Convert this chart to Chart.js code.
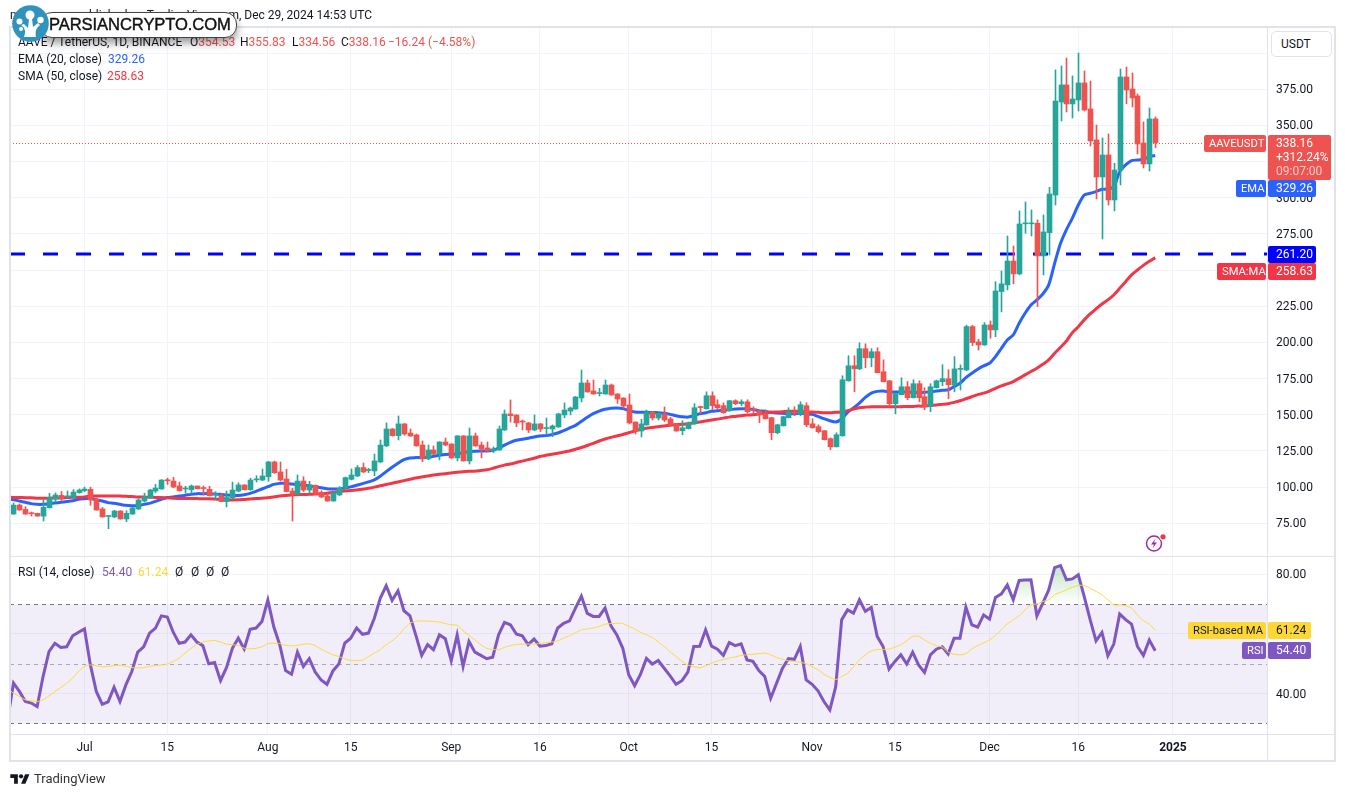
<!DOCTYPE html>
<html>
<head>
<meta charset="utf-8">
<title>AAVEUSDT</title>
<script src="https://cdn.jsdelivr.net/npm/chart.js@4/dist/chart.umd.js"></script>
<style>
  html, body { margin: 0; background: #fff; }
  body { width: 1345px; height: 796px; position: relative; overflow: hidden; font: 12px Roboto, sans-serif; color: #131722; }
  canvas { position: absolute; left: 0; top: 0; }
  .t { position: absolute; white-space: nowrap; line-height: 16px; }
  .r { color: #ef5350; }
  .usdt { position: absolute; left: 1271px; top: 31px; width: 59px; height: 24px; border: 1px solid #e0e3eb; border-radius: 5px; line-height: 24px; text-indent: 9px; background: #fff; }
  .pill { position: absolute; left: 40px; top: 12px; width: 195px; height: 24px; border: 1px solid #444; border-radius: 12px; background: #fff; box-shadow: 0 5px 9px rgba(0,0,0,.4); font: 16.6px/24px "Liberation Sans", sans-serif; text-indent: 8px; color: #111; -webkit-text-stroke: .4px #111; letter-spacing: -.1px; }
</style>
</head>
<body>
<canvas id="chart" width="1345" height="796"></canvas>

<div class="t" style="left:10px;top:7px">m</div>
<div class="t" style="right:973px;top:7px">published on TradingView.com, Dec 29, 2024 14:53 UTC</div>
<div class="t" style="left:18px;top:34px">AAVE / TetherUS, 1D, BINANCE</div>
<div class="t" style="left:190px;top:34px">O<span class="r">354.53</span></div>
<div class="t" style="left:240px;top:34px">H<span class="r">355.83</span></div>
<div class="t" style="left:292px;top:34px">L<span class="r">334.56</span></div>
<div class="t" style="left:341px;top:34px">C<span class="r">338.16</span></div>
<div class="t r" style="left:388px;top:34px">−16.24 (−4.58%)</div>
<div class="t" style="left:18px;top:51px">EMA (20, close)</div>
<div class="t" style="left:108px;top:51px;color:#2962ff">329.26</div>
<div class="t" style="left:18px;top:68px">SMA (50, close)</div>
<div class="t" style="left:107px;top:68px;color:#f23645">258.63</div>
<div class="t" style="left:18px;top:564px">RSI (14, close)</div>
<div class="t" style="left:102px;top:564px;color:#7e57c2">54.40</div>
<div class="t" style="left:138px;top:564px;color:#fdd835">61.24</div>
<div class="t" style="left:175px;top:564px">Ø</div>
<div class="t" style="left:191px;top:564px">Ø</div>
<div class="t" style="left:206px;top:564px">Ø</div>
<div class="t" style="left:221px;top:564px">Ø</div>
<div class="usdt">USDT</div>

<div class="pill">PARSIANCRYPTO.COM</div>
<svg style="position:absolute;left:12px;top:5px" width="37" height="37" viewBox="0 0 37 37">
  <circle cx="18.5" cy="18.5" r="18.3" fill="#2f93bd"/>
  <path d="M12 32c2-6 1-9-3-12l3-1 4 4 1-9h3l1 8 5-4 2 2c-4 3-5 7-4 12z" fill="#fff"/>
  <circle cx="18" cy="10" r="4.5" fill="#fff"/>
  <circle cx="7.5" cy="16.5" r="3" fill="#fff"/>
  <circle cx="28.5" cy="15" r="3.2" fill="#fff"/>
  <circle cx="9" cy="24" r="2" fill="#fff"/>
</svg>

<svg style="position:absolute;left:1145px;top:534px" width="22" height="20" viewBox="0 0 22 20">
  <circle cx="9" cy="9.5" r="7.5" fill="none" stroke="#9c27b0" stroke-width="1.5"/>
  <path d="M10.5 4.5 6 10.5h3L7.5 14.5 12 8.5H9z" fill="#9c27b0"/>
  <circle cx="18" cy="2.8" r="3.6" fill="#fff"/>
  <circle cx="18" cy="2.8" r="2.6" fill="#f23645"/>
</svg>

<svg style="position:absolute;left:10px;top:772px" width="20" height="14" viewBox="0 0 36 26">
  <path d="M14 22H7V11H0V4h14v18zM28 22h-8l7.5-18h8L28 22z" fill="#131722"/>
  <circle cx="20" cy="8" r="4" fill="#131722"/>
</svg>
<div class="t" style="left:34px;top:771px;font-size:13px;color:#333">TradingView</div>

<script>
// daily candles, Jun 19 to Dec 29 2024
const opens = [
  81.4,87.6,84.6,81.9,81.9,80,85.8,91.8,94.3,93.3,
  92.9,96.2,97.6,98.5,91.8,84.9,79.7,79.4,83.5,78,
  81.4,84.9,90.4,92.7,97.3,98.7,104.9,104.2,100.8,98.7,
  98.2,100.8,99.4,98.5,94.8,94.1,90,92.5,97.3,101.5,
  98.2,105,104.9,107.2,117.4,110.5,105.6,97.3,95.2,104.2,
  98,101.2,96.4,93.9,90.4,94.6,99.2,105.4,107.7,113.5,
  111.5,111.2,117.4,128.5,140.2,135.6,143.7,137.4,136.1,129.1,
  119.5,125.7,122.9,131.2,129.8,120.2,135.4,118.1,135.4,129.1,
  127.1,125,125.7,139.5,150.6,149.9,145.3,144.4,139.5,143.7,
  140.5,140.2,141.6,149.9,152.6,154,161.6,172,166.5,164.7,
  164.4,170.6,164.4,161.6,156.8,145,138.8,143,151.7,147.8,
  150.6,147.1,143.7,139,140.4,143.8,155.6,154.2,163.2,157,
  156.3,152.8,159.7,157.7,159,153.7,152.8,150.7,148,137.6,
  142.4,148,151.6,150.7,156.3,143.8,141.8,139,133.5,127.9,
  135.5,173.5,183.9,181.8,195.7,189.4,193.6,179.8,173.5,157.7,
  163.9,169.4,161.8,171.5,162.5,155.6,168.7,172.9,174.9,170.6,
  181.4,181,211,200.4,198.3,212.1,208.7,235.2,239.8,256.3,
  247.4,282,282,282.4,259.8,275.9,301.9,366.2,378,364.9,
  367.6,379.4,361.4,340,314.4,329.6,298.5,319.2,383.5,375.2,
  370.4,337.9,323.4,354.53
];
const highs = [
  89,88.4,86.5,82.8,82,91.1,95.7,96,97,97.3,
  98.3,98.8,100,100,92.5,86,80.3,84,83.7,83.7,
  86,92,95.8,98.5,101.9,105.2,106.2,106.8,103.5,100.6,
  101.5,100.8,100.8,100.6,96.9,95.7,97.3,103.5,103,101.7,
  106.2,107.9,112.5,117.8,118,117.4,112.3,99.2,108.4,107.2,
  104,101.5,97.5,95.7,96.9,100.4,107,112.6,114.9,116.7,
  113,122.9,132.6,144.4,140.5,149.2,144,140.2,136.7,131.9,
  129.1,128.5,131.5,134,130,135.7,135.6,140.9,137.4,131.2,
  131.2,127.8,142.3,153.3,160.3,150,146.4,144.8,149.9,144,
  147.8,143,151,158.2,155.4,162.7,181,174.1,174.1,168.3,
  174.1,171.3,164.6,161.8,164.4,145.2,146.9,153.3,152,151.2,
  155.4,148.3,144,145.9,145,157.7,156,165.9,165.9,160.4,
  158.3,160,160.4,160.4,160.4,155.6,153,153.5,148.2,143.4,
  149,154.9,155.6,159,158.3,147.3,143.1,139.2,134,137.6,
  177,190.8,190.8,199.8,199.1,195.7,196.4,188,173.7,165,
  175.6,173,174.2,173.5,168.7,171.5,174,184.6,181.2,190.2,
  184.5,212,211.8,202.2,213.7,214.9,242,249.4,273.6,266.7,
  290.9,297.1,291.6,284.7,288.1,307.2,388.4,391.1,396.6,384.2,
  400.1,387.7,380.7,350.3,341.4,344.1,323.8,389,390.4,386.3,
  371.8,352.4,362.1,355.83
];
const lows = [
  81.2,84,81.2,80,79.8,76.6,85.4,89.5,90.8,92.8,
  92.5,95.8,96.8,87.5,84,79.2,71.3,78.8,77.8,76.1,
  81.2,84.5,89.8,92.3,96.2,98.5,101.9,99.6,97.2,95.8,
  95.8,98.7,94.5,93.9,91.1,90,86.3,92,96.8,98,
  97.8,103.5,104.5,104,109.5,104.2,96.7,76.6,95,97,
  95.7,95,92.7,90.2,90.2,94.2,98.8,105,107.2,110,
  110,107.9,117,128,135.2,132.6,135.8,135,128.3,117.6,
  119,122.4,118.8,128.5,119.8,118.1,118,116,128.2,120.2,
  124.8,123.9,125.4,139.2,145,141.8,139.5,137.7,139,138.4,
  136.7,134.9,141.3,148,149.9,153.8,158.9,165.6,164.2,163,
  164.2,163.5,157.9,154.5,143.7,136.7,134.7,142.8,146.4,146.4,
  145.3,142.8,138.6,136.2,140.2,143.5,150.7,153.8,153.5,153.5,
  151,152.5,157,156.3,151.4,151.2,144.5,147,132.8,136.9,
  142.2,147.8,149.4,149.4,141.8,140.8,137.4,132.6,125.9,127.7,
  135.2,173.2,165.9,181.2,182.5,183.2,179,172.7,155.8,150.7,
  163.7,160.4,161.6,159,153.5,152.1,168.5,170.1,161.1,165.9,
  167.2,180.5,197.8,194.8,198,202.9,204,221.1,236.3,240.5,
  246.7,275.5,273.6,224.8,246.7,260.5,295,353.1,359.3,355.2,
  360,360,335.8,299.2,271.5,295,290.9,308.9,364.9,362.8,
  330.3,320.6,318.5,334.56
];
const closes = [
  87.6,84.2,81.4,81.6,80,86,92.7,94.6,91.8,93.9,
  96.6,98,98.7,91.1,84.2,79.4,80,83.5,78,81.9,
  85.6,91.1,93.4,98,99.4,104.9,104.4,100.1,97.6,99,
  100.8,98.9,99,94.1,95.2,90,92.9,98,101.5,98.2,
  104.9,105.4,107.7,117.4,110,104.9,96.9,95.2,104.2,98,
  101.5,95.2,93.2,90.4,96.2,99.2,106.6,108.4,113.5,110.5,
  111.9,118.1,129.1,140.2,135.6,143.7,136.7,135.4,128.5,119.5,
  125.7,122.9,131.2,129.1,120.2,135.4,118.1,135.4,128.5,126.4,
  125,126.4,140.2,150.6,149.4,144.4,145,139.5,143.7,140.2,
  140.9,142.3,150.6,153.3,154.7,162.3,172,165.8,164.4,165,
  170.6,163.7,160.9,156.1,144.4,138.8,143.7,151.9,147.8,151,
  146.4,143,138.8,141,144.5,154.9,155,163.2,156.3,154.9,
  151.4,159.7,157.7,159,152.1,153.2,150,147.3,137.6,143.1,
  148.7,152.1,151.2,157,143.1,141,138.3,132.8,127.9,136.2,
  174.2,183.9,181.8,195.7,189.4,193.6,179.1,172.9,157.7,164.6,
  169.4,161.8,171.5,161.8,155.6,169.4,173.5,174.9,170.8,181.7,
  181.7,211,199.9,198.3,212.1,208.7,235.6,240.5,256.3,247.4,
  281.9,282.4,282.4,259.8,276.4,302.6,366.9,378,364.9,368.3,
  379.4,360.7,339.3,314.4,329.6,298.5,319.2,383.5,374.5,369,
  337.2,323.4,354.5,338.16
];
// the indicator lists start one day earlier, that point sits just off the left edge
const ema20 = [
  91.9,
  91.3,90.4,89.5,88.6,88.1,88.1,88.6,89,89.5,90,
  90.6,91.6,92,92.3,91.1,90.4,89.3,88.8,88.1,87.4,
  87.2,87.2,88.1,88.8,90.2,91.6,92.9,93.2,93.9,94.3,
  95,95.5,95.5,95.5,95.2,95,94.6,94.3,94.3,94.8,
  95.7,97.1,98.7,100.3,101.9,102.6,102.6,102.2,101.9,101.5,
  101,100.3,99.6,98.9,98.7,98.7,99.3,100.2,101.3,102.4,
  103.6,105,107.5,110.7,113.7,116.5,119,120.2,120.4,120.4,
  120.6,121.3,122,122.5,122.7,122.9,123.9,124.5,124.8,125,
  125,125.5,126.9,129.1,131,132.4,133.1,133.8,134.7,135.4,
  135.6,136.3,137.4,139,140.9,142.7,145.5,148.3,150.8,152.6,
  153.8,154.5,154.7,154.3,152.9,152,151.7,151.7,151.5,151.5,
  151,150.3,149.4,148.7,148.4,149.4,150.7,151.4,152.4,152.8,
  153.3,153.5,154,154.2,154.2,153.7,152.8,152.4,151.7,151.2,
  151,150.7,150.7,151,150.7,150.3,148.9,147.3,145.9,145,
  147.1,151.7,154.7,158.1,162,165,166.2,166.4,165.9,165.7,
  165.7,165.7,165.5,165.5,165.5,165.9,166.4,166.9,167.3,169.5,
  171.8,175.7,178.7,181.5,183.8,185.6,190.2,196,201.7,205.2,
  213.3,220.2,225.9,229.4,233.5,239.8,254.7,268.5,278,286,
  295,301.9,303.1,304.3,305.9,305.9,307.7,318,322.7,325.7,
  326.1,326.6,328.4,329.26
];
const sma50 = [
  93,
  92.9,92.8,92.7,92.6,92.4,92.3,92.4,92.5,92.6,92.8,
  93,93,93.2,93.8,93.9,93.9,93.9,93.9,93.8,93.7,
  93.5,93.2,93.1,93,92.9,92.8,92.6,92.4,92.2,92.2,
  92.2,92.1,92,92,91.8,91.5,91.2,91.1,91.2,91.5,
  91.8,92.1,92.3,92.7,93.2,93.9,94.3,94.6,94.8,94.9,
  95,95.2,95.4,95.7,96.4,96.9,97.3,97.7,98.1,98.6,
  99.2,100,100.9,101.8,102.7,103.6,104.5,105.4,106.3,107,
  107.7,108.4,108.9,109.3,109.8,110.3,110.7,110.9,111,111.5,
  112,113,114.2,115.2,116,117,118,119,120,121.2,
  122,122.7,123.4,124.2,125,126.2,127.4,128.8,130.3,131.9,
  133.3,134.4,135.4,136.4,137.6,138.8,140,140.7,141.2,141.8,
  142.3,142.8,143.3,143.4,143.8,144.3,145,145.7,146.4,147,
  147.7,148.4,148.9,149.4,149.8,150,150.5,151.2,151.7,151.9,
  152.1,152.4,152.4,152.4,152.1,151.9,151.7,151.4,151.4,151.7,
  151.9,152.8,154,154.9,155.3,155.6,155.6,155.6,155.6,155.6,
  155.6,155.8,155.8,156,156,156.5,156.7,157.2,157.7,158.6,
  159.7,161.1,162.5,163.9,165,166.4,168.3,170,171.4,173,
  175.2,177.6,179.9,182.2,184.9,187.9,192.5,196.7,201,206.8,
  210.9,215.6,219.7,223.2,226.6,229.4,232.8,237.4,242,246.7,
  250.1,253.3,256.1,258.63
];
const rsi14 = [
  31,
  43.5,40.7,37.3,36.8,35.6,45.7,54.1,56.9,55.5,55.7,
  59.4,60.6,61.7,49.6,40.7,36.4,37.2,42.1,37.3,42.9,
  47.4,53.9,55.7,60.3,62,66.1,65.7,60.6,56.9,57.3,
  59.7,57.3,56.1,50,50.4,44.3,48.7,55.2,58.6,55,
  61.6,62,64.2,71.4,62.4,56.4,47.7,46.5,53.9,49.1,
  51.7,47.2,44.6,43.1,47.6,49.9,56.9,58.6,62,59.9,
  60.3,65.3,72,76.2,71.3,74.5,67.8,66.2,59.7,52.8,
  56.4,54.7,59.7,58.4,51,59.7,49.1,57.5,53.9,52.8,
  51.7,52.2,59.7,63.9,63.1,60,59.4,56.4,58.3,55.9,
  56.1,56.7,62,63.6,64.4,68.7,72.7,66.9,65.9,65.9,
  68.7,62.7,59.7,55.2,46.3,42.6,46.5,51.8,49.9,51.1,
  48.5,45.9,43.1,44.3,47.2,55.8,55.9,61.4,55.9,54.9,
  52.8,57.1,56.1,56.7,51.3,50.8,47.7,45.7,38.4,43.5,
  48.5,51.7,51.5,55.8,44.6,43.1,40.9,37.3,34.5,42.4,
  64.8,68.1,67,71.5,67.6,68.9,59.2,55.8,48.2,50.8,
  53,49.9,53.9,49.6,47.1,53,54.9,55.7,53.3,58.6,
  58.6,69,63.1,62.3,66.4,65,72.3,73.5,76.5,71.5,
  78,78.1,78.2,66.1,70.4,74.8,82.3,83,78.2,78.5,
  79.9,72.6,64.8,57.7,60.5,52.7,56.6,66.7,64.8,63.3,
  55.8,52.8,58,54.4
];
const rsiMa = [
  41.6,
  40.1,39,37.9,37.5,37.3,37.9,39.2,40.7,42,43.5,
  45.2,47.4,49.1,49.6,49.3,49,49.1,49.4,49.5,49.2,
  48.7,48.6,48.7,49.1,49.4,49.6,49.9,50.8,51.9,53.6,
  55.2,56.4,57.3,57.6,57.8,57.3,56.6,56.4,56.1,55.2,
  55,55.2,55.7,56.8,56.9,56.8,56.2,56,56.2,56.6,
  56.7,56.1,54.9,53.9,53,52.4,51.7,51.1,51.1,51.2,
  52.4,53.6,54.7,56.4,57.7,59.4,61.7,63.6,64.3,64.4,
  64.3,64.2,64,63.5,63.1,62.9,61.1,59.5,58,56.4,
  55.2,54.8,54.7,55.5,56.1,56.5,56.6,56.6,56.6,56.8,
  57.1,57.3,57.7,58.6,59.4,60.4,61.4,61.7,62,62.5,
  63.3,63.5,63.6,63.5,62.6,61.7,60.5,59.7,58.8,57.3,
  55.8,54,52.4,50.8,49.6,49,48.7,49.3,50.2,51,
  51.4,51.9,52.3,52.8,53,53.2,53.4,53.6,53,52.1,
  51.5,51,50.8,50.5,50,49,48,46.5,45.4,44.7,
  45.7,46.8,49,51.3,53,54.3,54.8,54.8,54.9,55.6,
  56.4,57.7,59.2,59.2,58,56.9,56.1,55.6,53.9,53.2,
  53,53.4,55,56.1,57,58,59.5,61.4,63.4,64.8,
  66.1,68.1,69.8,70.1,70.9,71.5,73.2,74,74.8,75.7,
  76.3,76.3,75.4,74.3,73.2,71.5,69.8,69.8,69.5,68.7,
  66.4,64.5,63.3,61.24
];

const levelPrice = 261.2;
const lastPrice = 338.16;
const priceTicks = [75, 100, 125, 150, 175, 200, 225, 250, 275, 300, 325, 350, 375, 400];
const rsiTicks = [40, 60, 80];
const rsiLevels = [30, 50, 70];
const timeTicks = [12, 26, 43, 57, 74, 89, 104, 118, 135, 149, 165, 180, 196];
const timeLabels = ["Jul", "15", "Aug", "15", "Sep", "16", "Oct", "15", "Nov", "15", "Dec", "16", "2025"];

const UP = "#26a69a", DOWN = "#ef5350";
const FONT = 'Roboto, sans-serif';
const xMin = -0.59, xMax = 211.9;
const candleColors = closes.map((c, i) => (c >= opens[i] ? UP : DOWN));
const toPoints = (arr) => arr.map((v, i) => ({ x: i - 1, y: v }));

function box(ctx, x, y, w, h, color) {
  ctx.fillStyle = color;
  ctx.beginPath();
  ctx.roundRect(x, y, w, h, 2);
  ctx.fill();
}

function boxText(ctx, text, x, y, color) {
  ctx.fillStyle = color;
  ctx.fillText(text, x, y);
}

// name tag left of the axis, narrower type than the values
function nameTag(ctx, text, x, y, w, color, textColor) {
  box(ctx, x, y, w, 17, color);
  ctx.font = "11.2px " + FONT;
  boxText(ctx, text, x + 5, y + 9, textColor);
  ctx.font = "12px " + FONT;
}

// price tags on the axis, band of the RSI and the frame of the panes
const panes = {
  id: "panes",
  afterLayout(chart) {
    const s = chart.scales.yRsi;
    const g = chart.ctx.createLinearGradient(0, s.getPixelForValue(83), 0, s.getPixelForValue(70));
    g.addColorStop(0, "rgba(76,175,80,0.32)");
    g.addColorStop(1, "rgba(76,175,80,0)");
    chart.data.datasets[7].fill.above = g;
  },
  afterDatasetsUpdate(chart) {
    // snap candles to whole pixels so the wicks stay crisp
    [0, 1].forEach((n) => {
      chart.getDatasetMeta(n).data.forEach((el) => {
        el.x = Math.round(el.x) + 0.5;
      });
    });
  },
  beforeDatasetsDraw(chart) {
    const { ctx, chartArea: a, scales } = chart;
    const r = scales.yRsi;
    ctx.save();
    ctx.fillStyle = "rgba(126,87,194,0.1)";
    const top = r.getPixelForValue(70), bottom = r.getPixelForValue(30);
    ctx.fillRect(a.left, top, a.width, bottom - top);
    ctx.strokeStyle = "#787b86";
    ctx.lineWidth = 1;
    ctx.setLineDash([4, 4]);
    rsiLevels.forEach((v) => {
      const y = Math.round(r.getPixelForValue(v)) + 0.5;
      ctx.globalAlpha = v === 50 ? 0.6 : 1;
      ctx.beginPath();
      ctx.moveTo(a.left, y);
      ctx.lineTo(a.right, y);
      ctx.stroke();
    });
    ctx.globalAlpha = 1;
    const py = Math.round(scales.y.getPixelForValue(lastPrice)) + 0.5;
    ctx.strokeStyle = DOWN;
    ctx.setLineDash([1, 2]);
    ctx.beginPath();
    ctx.moveTo(a.left, py);
    ctx.lineTo(a.right, py);
    ctx.stroke();
    ctx.restore();
  },
  afterDraw(chart) {
    const { ctx, chartArea: a } = chart;
    ctx.save();
    ctx.strokeStyle = "#e0e3eb";
    ctx.lineWidth = 2;
    ctx.strokeRect(10, 27, 1325, 734);
    ctx.lineWidth = 1;
    ctx.beginPath();
    ctx.moveTo(a.left, 556.5);
    ctx.lineTo(1335, 556.5);
    ctx.moveTo(a.left, 734.5);
    ctx.lineTo(1335, 734.5);
    ctx.moveTo(1267.5, 27);
    ctx.lineTo(1267.5, 761);
    ctx.stroke();

    ctx.font = "12px " + FONT;
    ctx.textBaseline = "middle";
    ctx.textAlign = "left";
    const W = "#fff";
    nameTag(ctx, "AAVEUSDT", 1204, 135, 62, DOWN, W);
    box(ctx, 1268, 135, 63, 45, DOWN);
    boxText(ctx, "338.16", 1276, 144, W);
    boxText(ctx, "+312.24%", 1276, 158, W);
    boxText(ctx, "09:07:00", 1276, 172, "rgba(255,255,255,.7)");

    nameTag(ctx, "EMA", 1236, 180, 30, "#2962ff", W);
    box(ctx, 1268, 180, 48, 17, "#2962ff");
    boxText(ctx, "329.26", 1276, 189, W);

    box(ctx, 1268, 246, 48, 17, "#0000ff");
    boxText(ctx, "261.20", 1276, 255, W);

    nameTag(ctx, "SMA:MA", 1217, 263, 49, "#f23645", W);
    box(ctx, 1268, 263, 48, 17, "#f23645");
    boxText(ctx, "258.63", 1276, 272, W);

    nameTag(ctx, "RSI-based MA", 1188, 622, 78, "#fdd835", "#131722");
    box(ctx, 1268, 622, 43, 17, "#fdd835");
    boxText(ctx, "61.24", 1276, 631, "#131722");

    nameTag(ctx, "RSI", 1242, 642, 24, "#7e57c2", W);
    box(ctx, 1268, 642, 43, 17, "#7e57c2");
    boxText(ctx, "54.40", 1276, 651, W);
    ctx.restore();
  }
};

const priceLine = (data, color) => ({
  type: "line", data: toPoints(data), yAxisID: "y",
  borderColor: color, borderWidth: 3, pointRadius: 0, tension: 0.25, fill: false
});

new Chart(document.getElementById("chart"), {
  type: "bar",
  data: {
    datasets: [
      {
        data: opens.map((o, i) => ({ x: i, y: [o, closes[i]] })), yAxisID: "y",
        backgroundColor: candleColors, barThickness: 5, minBarLength: 1, grouped: false
      },
      {
        data: lows.map((l, i) => ({ x: i, y: [l, highs[i]] })), yAxisID: "y",
        backgroundColor: candleColors, barThickness: 1, grouped: false
      },
      priceLine(sma50, "#f23645"),
      priceLine(ema20, "#2962ff"),
      {
        type: "line", yAxisID: "y", pointRadius: 0, fill: false,
        data: [{ x: xMin, y: levelPrice }, { x: xMax, y: levelPrice }],
        borderColor: "#0000ff", borderWidth: 3, borderDash: [15, 18]
      },
      {
        type: "line", data: toPoints(rsiMa), yAxisID: "yRsi",
        borderColor: "#fdd835", borderWidth: 1, pointRadius: 0, tension: 0.2, fill: false
      },
      {
        type: "line", data: toPoints(rsi14), yAxisID: "yRsi",
        borderColor: "#7e57c2", borderWidth: 3, pointRadius: 0, fill: false
      },
      {
        // only the December run gets the overbought shading
        type: "line", yAxisID: "yRsi", pointRadius: 0, borderWidth: 0,
        data: rsi14.map((v, i) => ({ x: i - 1, y: i >= 165 && i <= 182 ? v : null })),
        fill: { target: { value: 70 }, above: "rgba(76,175,80,0.2)", below: "rgba(0,0,0,0)" }
      }
    ]
  },
  options: {
    responsive: false,
    animation: false,
    layout: { padding: { left: 10, right: 10, top: 27, bottom: 36 } },
    plugins: { legend: { display: false }, tooltip: { enabled: false } },
    scales: {
      x: {
        type: "linear", min: xMin, max: xMax, offset: false,
        grid: { color: "#f0f3fa", offset: false, drawTicks: false },
        border: { display: false },
        afterBuildTicks: (s) => { s.ticks = timeTicks.map((v) => ({ value: v })); },
        afterFit: (s) => { s.height = 26; },
        ticks: {
          autoSkip: false, maxRotation: 0, padding: 7, color: "#131722",
          font: (c) => ({ family: FONT, size: 12, weight: c.index === 12 ? "bold" : "normal" }),
          callback: (v, i) => timeLabels[i]
        }
      },
      y: {
        position: "right", stack: "panes", stackWeight: 529, min: 52.4, max: 418.05,
        grid: { color: "#f0f3fa", drawTicks: false },
        border: { display: false },
        afterBuildTicks: (s) => { s.ticks = priceTicks.map((v) => ({ value: v })); },
        afterFit: (s) => { s.width = 68; },
        ticks: {
          autoSkip: false, padding: 9, labelOffset: 1, color: "#131722", font: { family: FONT, size: 12 },
          callback: (v) => (v === 400 ? "" : v.toFixed(2))
        }
      },
      yRsi: {
        position: "right", stack: "panes", stackWeight: 178, min: 26.4, max: 86.2,
        grid: { color: "#f0f3fa", drawTicks: false },
        border: { display: false },
        afterBuildTicks: (s) => { s.ticks = rsiTicks.map((v) => ({ value: v })); },
        afterFit: (s) => { s.width = 68; },
        ticks: {
          autoSkip: false, padding: 9, labelOffset: 1, color: "#131722", font: { family: FONT, size: 12 },
          callback: (v) => v.toFixed(2)
        }
      }
    }
  },
  plugins: [panes]
});
</script>
</body>
</html>
